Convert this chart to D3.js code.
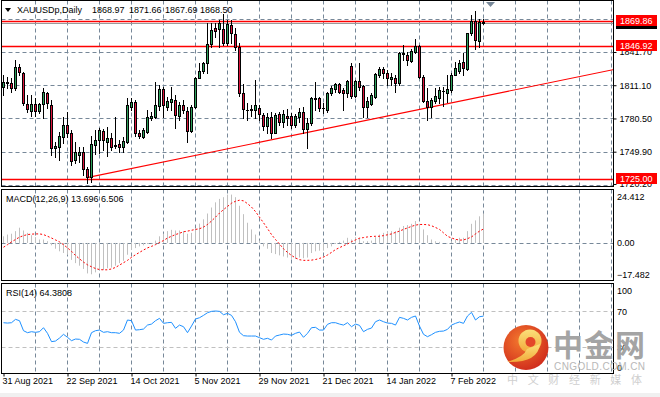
<!DOCTYPE html>
<html>
<head>
<meta charset="utf-8">
<script src="https://cdn.jsdelivr.net/npm/d3@7/dist/d3.min.js"></script>
<style>
  body { margin: 0; background: #fff; }
  svg { display: block; font-family: "Liberation Sans", Arial, sans-serif; }
</style>
</head>
<body>
<script>
const width = 660;
const height = 397;

// XAUUSDp daily candles, 31 Aug 2021 .. 17 Feb 2022
const opens = [1809.1,1813.5,1813.4,1808.2,1828.2,1822.0,1793.5,1787.6,1793.5,1787.6,
  1793.5,1803.6,1792.8,1752.9,1753.8,1763.7,1774.4,1767.3,1742.2,1746.8,
  1749.8,1733.6,1726.2,1756.0,1760.6,1769.2,1759.1,1762.7,1754.8,1756.6,
  1753.8,1759.1,1791.3,1795.9,1767.3,1763.7,1768.3,1781.2,1781.5,1792.2,
  1807.6,1791.3,1795.9,1797.5,1782.7,1792.8,1787.3,1769.2,1791.3,1818.0,
  1824.2,1831.9,1848.8,1863.5,1862.6,1862.6,1849.7,1866.6,1858.3,1846.6,
  1804.2,1787.9,1788.2,1788.2,1789.8,1783.6,1773.8,1782.1,1767.3,1784.2,
  1777.5,1782.7,1782.7,1774.1,1782.1,1786.1,1770.4,1776.6,1798.1,1799.0,
  1789.8,1788.2,1803.6,1807.6,1812.2,1806.7,1803.6,1828.8,1801.1,1815.0,
  1810.4,1790.7,1793.8,1799.9,1820.5,1825.7,1822.6,1816.8,1817.4,1813.4,
  1841.1,1838.9,1833.7,1842.0,1847.2,1819.0,1796.8,1791.3,1796.8,1799.0,
  1805.4,1804.2,1806.7,1820.5,1824.5,1832.8,1825.7,1858.9,1870.6,1852.2,
  1868.97];
const highs = [1820.5,1819.0,1817.4,1834.3,1830.3,1823.6,1802.1,1802.1,1799.0,1794.4,
  1808.2,1805.1,1797.5,1759.1,1768.3,1782.1,1786.7,1769.8,1759.1,1754.4,
  1753.8,1736.0,1764.3,1769.8,1771.3,1770.4,1772.9,1766.7,1781.5,1760.6,
  1763.7,1799.0,1799.0,1797.5,1769.8,1771.3,1788.2,1786.7,1814.4,1811.3,
  1809.7,1799.9,1809.7,1802.1,1795.9,1797.5,1791.3,1792.8,1819.0,1831.2,
  1832.8,1868.1,1868.1,1868.7,1871.2,1876.7,1871.2,1871.2,1863.5,1849.7,
  1812.2,1794.4,1792.8,1815.9,1792.8,1785.2,1785.2,1786.7,1785.2,1786.7,
  1788.2,1788.9,1785.2,1784.6,1789.8,1791.3,1780.6,1799.9,1814.4,1799.9,
  1794.4,1805.1,1810.4,1813.4,1812.8,1808.2,1815.9,1831.9,1815.9,1831.2,
  1811.3,1799.9,1803.6,1822.7,1828.2,1828.2,1825.1,1822.6,1820.5,1842.0,
  1848.1,1842.0,1844.1,1853.4,1848.1,1820.5,1808.2,1799.0,1808.2,1809.7,
  1809.7,1820.5,1822.0,1832.8,1834.3,1841.1,1859.5,1875.8,1879.5,1871.8,
  1871.66];
const lows = [1802.1,1808.2,1805.1,1806.7,1820.5,1792.9,1786.7,1782.7,1782.7,1785.2,
  1780.6,1789.8,1746.8,1745.2,1742.2,1757.5,1763.7,1737.5,1739.1,1740.6,
  1728.3,1721.3,1722.2,1747.7,1748.3,1751.4,1746.2,1751.4,1752.9,1749.8,
  1749.8,1758.1,1788.2,1764.3,1762.1,1762.1,1767.3,1779.0,1780.6,1788.2,
  1782.1,1788.2,1788.2,1771.3,1779.0,1785.2,1759.1,1768.3,1789.8,1817.4,
  1822.0,1822.0,1846.6,1855.8,1846.6,1848.1,1848.1,1849.7,1843.5,1801.1,
  1780.6,1779.0,1782.7,1780.6,1779.0,1769.8,1767.3,1762.1,1766.7,1774.4,
  1772.9,1774.4,1771.3,1772.9,1777.5,1766.7,1752.9,1774.4,1788.2,1787.6,
  1785.2,1786.7,1802.1,1805.1,1803.6,1788.2,1800.5,1799.0,1799.9,1806.7,
  1782.1,1782.1,1792.8,1799.0,1819.0,1817.4,1811.3,1811.3,1805.1,1811.3,
  1834.3,1829.7,1832.8,1840.5,1818.0,1795.9,1779.0,1782.1,1794.4,1794.4,
  1792.0,1795.9,1805.1,1820.5,1822.0,1820.5,1825.1,1857.4,1844.1,1846.0,
  1867.69];
const closes = [1814.3,1814.0,1808.8,1827.6,1823.0,1794.4,1788.9,1793.5,1787.3,1793.5,
  1804.5,1794.4,1752.9,1755.1,1764.3,1774.4,1767.3,1741.5,1749.8,1749.9,
  1733.6,1726.2,1756.9,1760.6,1769.8,1760.6,1762.7,1754.4,1756.0,1753.8,
  1759.7,1792.8,1795.9,1767.3,1764.3,1769.8,1781.5,1782.7,1792.8,1807.6,
  1792.8,1796.8,1798.1,1783.6,1792.8,1788.2,1769.2,1791.3,1817.4,1824.2,
  1831.9,1848.8,1862.0,1861.4,1868.7,1849.7,1867.5,1858.9,1846.6,1804.2,
  1788.9,1788.5,1788.8,1792.8,1784.6,1773.8,1782.1,1767.3,1783.6,1777.5,
  1784.6,1780.6,1774.4,1782.7,1786.1,1770.4,1776.6,1799.0,1799.0,1790.4,
  1789.8,1803.6,1808.2,1812.2,1805.1,1803.6,1815.3,1801.1,1815.0,1809.7,
  1790.7,1796.8,1802.1,1821.4,1825.7,1822.0,1817.4,1819.0,1813.4,1841.1,
  1839.8,1834.3,1842.9,1847.2,1819.0,1796.8,1791.3,1797.5,1801.1,1806.7,
  1805.8,1807.3,1820.5,1826.6,1831.9,1826.6,1858.9,1870.6,1852.8,1869.6,
  1868.50];

// MACD(12,26,9): main histogram and signal line
const macdMain = [3.1,3.9,4.3,5.5,7.1,5.8,4.7,3.6,2.7,1.6,
  1.6,0.8,-1.1,-2.7,-3.9,-4.7,-5.5,-7.9,-9.4,-10.6,
  -12.1,-14.2,-14.6,-13.7,-12.6,-12.6,-11.8,-11.5,-10.6,-9.4,
  -8.3,-5.5,-3.1,-2.4,-1.6,-1.1,-0.5,-0.2,1.1,3.1,
  4.3,5.5,6.1,5.8,5.8,5.5,4.3,4.7,6.8,9.0,
  11.0,13.7,16.5,18.9,20.5,21.3,22.5,22.5,21.3,17.3,
  13.4,9.4,6.3,3.9,1.1,-1.6,-2.7,-4.7,-5.2,-5.8,
  -6.3,-6.8,-7.4,-7.4,-6.8,-7.1,-6.8,-4.7,-3.9,-3.6,
  -3.6,-2.4,-1.6,-0.5,0.5,1.1,2.4,1.6,2.7,2.4,
  0.8,0.8,1.1,2.7,3.9,4.7,5.2,5.5,5.5,7.1,
  7.9,8.3,8.9,10.2,8.9,6.3,3.6,1.6,0.8,0.5,
  0.0,-0.2,0.8,1.6,2.4,2.4,5.5,8.9,10.5,12.4,
  13.696];
const macdSignal = [-2.0,-0.8,0.5,1.6,2.7,3.4,3.9,4.1,4.2,4.2,
  3.9,3.1,2.3,1.4,0.5,-0.8,-2.3,-3.9,-5.8,-7.4,
  -8.9,-10.2,-11.1,-11.9,-12.4,-12.5,-12.5,-12.1,-11.4,-10.3,
  -9.2,-8.1,-6.7,-5.5,-4.4,-3.3,-2.3,-1.6,-0.8,0.2,
  1.1,2.3,3.1,3.9,4.5,5.2,5.5,5.9,6.3,6.6,
  7.4,8.6,10.2,12.0,13.9,15.5,17.0,18.5,19.4,19.9,
  19.6,18.3,16.7,14.6,12.0,9.4,6.7,3.9,1.6,-0.5,
  -2.7,-4.4,-5.8,-7.0,-7.8,-8.1,-8.1,-8.0,-7.7,-7.2,
  -6.6,-5.6,-4.4,-3.1,-2.2,-1.3,-0.5,0.6,1.4,2.2,
  2.5,2.8,3.0,3.1,3.1,3.4,3.8,4.2,4.9,5.5,
  6.3,7.0,7.7,8.3,8.6,8.6,8.5,8.0,7.2,6.3,
  4.7,3.1,2.3,1.7,1.3,1.4,2.0,2.8,4.2,5.5,
  6.506];

// RSI(14)
const rsiValues = [57.1,56.7,57.1,60.8,59.3,48.3,46.1,47.2,46.5,47.2,
  51.6,45.4,36.2,36.9,40.2,44.3,41.0,37.3,39.1,38.8,
  35.8,34.3,46.1,48.3,49.0,46.5,47.2,46.1,46.1,45.4,
  49.0,60.1,59.3,49.0,49.4,50.1,54.5,55.6,59.3,61.9,
  56.4,57.1,57.5,50.9,54.5,52.7,46.1,53.4,61.2,62.6,
  65.2,68.1,69.6,70.0,69.6,65.9,67.4,65.2,58.2,46.5,
  42.8,42.4,42.4,42.4,40.6,38.8,39.9,38.0,42.4,43.5,
  44.6,44.3,43.2,45.4,46.8,41.0,45.4,51.6,52.0,49.0,
  49.0,55.3,57.1,57.1,55.6,54.5,57.1,52.7,55.6,54.2,
  47.2,49.8,51.2,58.2,60.1,58.2,56.7,56.4,54.5,63.0,
  61.9,60.1,63.0,64.5,53.4,44.3,41.7,43.9,46.5,47.6,
  47.9,49.8,54.5,56.4,57.9,56.4,64.5,68.5,60.1,63.7,
  64.3808];

const dateLabels = ["31 Aug 2021", "22 Sep 2021", "14 Oct 2021", "5 Nov 2021",
  "29 Nov 2021", "21 Dec 2021", "14 Jan 2022", "7 Feb 2022"];
const dateLabelBars = [0, 16, 32, 48, 64, 80, 96, 112];

const priceGrid = [1872.30, 1841.70, 1811.10, 1780.50, 1749.90, 1719.30];
const priceLabels = [1841.70, 1811.10, 1780.50, 1749.90, 1720.20];
const levelLines = [1869.86, 1846.92, 1725.00];
const bidPrice = 1868.50;
const trendFrom = { bar: 21.3, price: 1726.2 };
const trendTo = { bar: 152.5, price: 1825.4 };

const macdLabels = [24.412, 0, -17.482];
const rsiLabels = [100, 70, 30, 0];
const rsiLevels = [70, 30];

const header = ["XAUUSDp,Daily", "1868.97", "1871.66", "1867.69", "1868.50"];

const bullColor = "#2ca05a";
const bearColor = "#dc143c";
const gridColor = "#778899";

let svg = d3
  .select("body")
  .append("svg")
  .attr("width", width)
  .attr("height", height);

svg.append("rect").attr("width", width).attr("height", height).attr("fill", "#fff");
svg.append("rect").attr("x", 0).attr("y", 393).attr("width", width).attr("height", 4).attr("fill", "#f0f0f0");

// panels (left, right, top, bottom)
const left = 1.5, right = 613.5;
const panels = {
  main: { top: 0.5, bottom: 186.5 },
  macd: { top: 189.5, bottom: 280.5 },
  rsi: { top: 283.5, bottom: 373.5 },
};

// bars are 4px apart, grid every 8 bars (extends past the last bar)
let x = d3.scaleLinear().domain([0, 152]).range([3, 611]);
let y = d3.scaleLinear().domain([1749.9, 1841.7]).range([151.7, 52]);
let yMacd = d3.scaleLinear().domain([-17.482, 24.412]).range([280.5, 190.5]);
let yRsi = d3.scaleLinear().domain([0, 100]).range([374.5, 283.8]);

const gridBars = d3.range(8, 153, 8);
const px = (v) => Math.round(v) + 0.5;

// clip paths for each panel
Object.entries(panels).forEach(([name, p]) => {
  svg.append("clipPath").attr("id", "clip-" + name)
    .append("rect").attr("x", left).attr("y", p.top).attr("width", right - left).attr("height", p.bottom - p.top);
});

// vertical grid in all three panels
Object.entries(panels).forEach(([name, p]) => {
  svg.append("g")
    .selectAll("line")
    .data(gridBars)
    .join("line")
    .attr("x1", (d) => px(x(d)))
    .attr("x2", (d) => px(x(d)))
    .attr("y1", p.top)
    .attr("y2", p.bottom)
    .attr("stroke", gridColor)
    .attr("stroke-dasharray", "4,3");
});

// main panel horizontal grid
let main = svg.append("g").attr("clip-path", "url(#clip-main)");
main.selectAll(".hgrid")
  .data(priceGrid)
  .join("line")
  .attr("x1", left).attr("x2", right)
  .attr("y1", (d) => px(y(d))).attr("y2", (d) => px(y(d)))
  .attr("stroke", gridColor)
  .attr("stroke-dasharray", "4,3");

// bid line
main.append("line")
  .attr("x1", left).attr("x2", right)
  .attr("y1", px(y(bidPrice))).attr("y2", px(y(bidPrice)))
  .attr("stroke", "#9a9a9a");

// horizontal levels
main.selectAll(".level")
  .data(levelLines)
  .join("line")
  .attr("x1", left).attr("x2", right)
  .attr("y1", (d) => px(y(d))).attr("y2", (d) => px(y(d)))
  .attr("stroke", "#ff0000")
  .attr("stroke-width", 1.5);

// trend line (ray to the right edge)
let slope = (trendTo.price - trendFrom.price) / (trendTo.bar - trendFrom.bar);
main.append("line")
  .attr("x1", x(trendFrom.bar)).attr("y1", y(trendFrom.price))
  .attr("x2", x(trendTo.bar + 5)).attr("y2", y(trendTo.price + 5 * slope))
  .attr("stroke", "#ff0000")
  .attr("stroke-width", 1.2);

// candles
let candles = opens.map((o, i) => ({ i, o, h: highs[i], l: lows[i], c: closes[i] }));

let cg = main.selectAll(".candle")
  .data(candles)
  .join("g")
  .attr("shape-rendering", "crispEdges");

cg.append("line")
  .attr("x1", (d) => Math.round(x(d.i)) + 0.5)
  .attr("x2", (d) => Math.round(x(d.i)) + 0.5)
  .attr("y1", (d) => Math.round(y(d.h)))
  .attr("y2", (d) => Math.round(y(d.l)) + 1)
  .attr("stroke", "#000");

cg.append("rect")
  .attr("x", (d) => Math.round(x(d.i)) - 1)
  .attr("width", 3)
  .attr("y", (d) => Math.round(y(Math.max(d.o, d.c))))
  .attr("height", (d) => Math.max(1, Math.round(y(Math.min(d.o, d.c))) - Math.round(y(Math.max(d.o, d.c))) + 1))
  .attr("fill", "#000");

cg.filter((d) => Math.round(y(Math.min(d.o, d.c))) - Math.round(y(Math.max(d.o, d.c))) >= 2)
  .append("rect")
  .attr("x", (d) => Math.round(x(d.i)))
  .attr("width", 1)
  .attr("y", (d) => Math.round(y(Math.max(d.o, d.c))) + 1)
  .attr("height", (d) => Math.round(y(Math.min(d.o, d.c))) - Math.round(y(Math.max(d.o, d.c))) - 1)
  .attr("fill", (d) => (d.c >= d.o ? bullColor : bearColor));

// MACD panel
let macd = svg.append("g").attr("clip-path", "url(#clip-macd)");
macd.append("line")
  .attr("x1", left).attr("x2", right)
  .attr("y1", px(yMacd(0))).attr("y2", px(yMacd(0)))
  .attr("stroke", gridColor)
  .attr("stroke-dasharray", "4,3");

macd.selectAll(".hist")
  .data(macdMain)
  .join("line")
  .attr("x1", (d, i) => Math.round(x(i)) + 0.5)
  .attr("x2", (d, i) => Math.round(x(i)) + 0.5)
  .attr("y1", yMacd(0))
  .attr("y2", (d) => yMacd(d))
  .attr("stroke", "#c0c0c0");

macd.append("path")
  .datum(macdSignal)
  .attr("d", d3.line().x((d, i) => x(i) + 0.5).y((d) => yMacd(d)))
  .attr("fill", "none")
  .attr("stroke", "#ff0000")
  .attr("stroke-dasharray", "2,2");

// RSI panel
let rsi = svg.append("g").attr("clip-path", "url(#clip-rsi)");
rsi.selectAll(".lvl")
  .data(rsiLevels)
  .join("line")
  .attr("x1", left).attr("x2", right)
  .attr("y1", (d) => px(yRsi(d))).attr("y2", (d) => px(yRsi(d)))
  .attr("stroke", "#c0c0c0")
  .attr("stroke-dasharray", "4,3");

rsi.append("path")
  .datum(rsiValues)
  .attr("d", d3.line().x((d, i) => x(i) + 0.5).y((d) => yRsi(d)))
  .attr("fill", "none")
  .attr("stroke", "#1e90ff");

// panel frames
Object.values(panels).forEach((p) => {
  svg.append("rect")
    .attr("x", left).attr("y", p.top)
    .attr("width", right - left).attr("height", p.bottom - p.top)
    .attr("fill", "none")
    .attr("stroke", "#000");
});

// right price axis
let priceAxis = svg.append("g")
  .attr("transform", `translate(${right},0)`)
  .call(d3.axisRight(y).tickValues(priceLabels).tickSize(3).tickPadding(3).tickFormat(d3.format(".2f")));
priceAxis.select(".domain").remove();
priceAxis.selectAll("text").attr("font-size", 9).attr("font-family", "Liberation Sans, Arial, sans-serif");

// bid label (only its lower edge shows) and red level labels
svg.append("rect")
  .attr("x", 616).attr("y", Math.round(y(bidPrice)) - 5)
  .attr("width", 41).attr("height", 11).attr("fill", "#000");

let lvl = svg.selectAll(".lvlLabel")
  .data(levelLines)
  .join("g");
lvl.append("rect")
  .attr("x", 616).attr("y", (d) => Math.round(y(d)) - 6)
  .attr("width", 41).attr("height", 11)
  .attr("fill", "#ff0000");
lvl.append("text")
  .attr("x", 620).attr("y", (d) => y(d) + 3)
  .attr("font-size", 9).attr("fill", "#fff")
  .text((d) => d3.format(".2f")(d));

// MACD and RSI scale labels
const macdFmt = (d) => (d === 0 ? "0.00" : d3.format(".3f")(d));
svg.selectAll(".macdLabel")
  .data(macdLabels)
  .join("text")
  .attr("x", 617)
  .attr("y", (d, i) => [200, yMacd(0) + 3, 277.5][i])
  .attr("font-size", 9)
  .text(macdFmt);

svg.selectAll(".rsiLabel")
  .data(rsiLabels)
  .join("text")
  .attr("x", 617)
  .attr("y", (d) => (d === 100 ? 293.5 : d === 0 ? 371 : yRsi(d) + 3.5))
  .attr("font-size", 9)
  .text((d) => d);

// time axis
let timeAxis = svg.append("g")
  .attr("transform", `translate(0,${panels.rsi.bottom})`)
  .call(d3.axisBottom(x).tickValues(dateLabelBars).tickSize(3).tickPadding(1)
    .tickFormat((d, i) => dateLabels[i]));
timeAxis.select(".domain").remove();
timeAxis.selectAll("line").attr("transform", "translate(0.5,0)");
timeAxis.selectAll("text")
  .attr("text-anchor", "start")
  .attr("dx", -1)
  .attr("font-size", 9)
  .attr("font-family", "Liberation Sans, Arial, sans-serif");

// header and indicator captions
svg.append("path").attr("d", "M5,8 L11,8 L8,12 Z").attr("fill", "#000");
svg.selectAll(".hdr")
  .data(header)
  .join("text")
  .attr("x", (d, i) => [17, 92, 129, 165, 200][i])
  .attr("y", 12.5)
  .attr("font-size", 9)
  .text((d) => d);

svg.append("text").attr("x", 6).attr("y", 201.5).attr("font-size", 9)
  .text(`MACD(12,26,9) ${macdMain[macdMain.length - 1].toFixed(3)} ${macdSignal[macdSignal.length - 1].toFixed(3)}`);
svg.append("text").attr("x", 6).attr("y", 296).attr("font-size", 9)
  .text(`RSI(14) ${rsiValues[rsiValues.length - 1].toFixed(4)}`);

// chart shift marker
svg.append("path").attr("d", "M486,2 L495,2 L490.5,7 Z").attr("fill", "#778899");

// watermark
let defs = svg.append("defs");
let rg = defs.append("radialGradient").attr("id", "logoRed").attr("cx", "40%").attr("cy", "35%").attr("r", "70%");
rg.append("stop").attr("offset", "0%").attr("stop-color", "#f47a2e");
rg.append("stop").attr("offset", "100%").attr("stop-color", "#cf2a1c");
let yg = defs.append("linearGradient").attr("id", "logoGold").attr("x1", "0").attr("y1", "0").attr("x2", "0").attr("y2", "1");
yg.append("stop").attr("offset", "0%").attr("stop-color", "#fbe07a");
yg.append("stop").attr("offset", "100%").attr("stop-color", "#f2a93a");

let wm = svg.append("g");
wm.append("circle").attr("cx", 526).attr("cy", 347.5).attr("r", 22.5).attr("fill", "url(#logoRed)");
wm.append("circle").attr("cx", 530).attr("cy", 341).attr("r", 11.5).attr("fill", "url(#logoGold)");
wm.append("path").attr("d", "M540,344 Q538,363 507,362 Q524,357 527,349 Z").attr("fill", "url(#logoGold)");
wm.append("circle").attr("cx", 530.5).attr("cy", 342).attr("r", 5).attr("fill", "#e4472a");
wm.append("text").attr("x", 553).attr("y", 356)
  .attr("font-family", "Noto Sans CJK SC").attr("font-weight", "bold")
  .attr("font-size", 30).attr("fill", "#a4a4a4")
  .attr("textLength", 92).attr("lengthAdjust", "spacing")
  .text("中金网");
wm.append("text").attr("x", 554).attr("y", 369.5)
  .attr("font-size", 10).attr("fill", "#b8b8b8")
  .attr("textLength", 91).attr("lengthAdjust", "spacing")
  .text("CNGOLD.COM.CN");
wm.append("text").attr("x", 507).attr("y", 384)
  .attr("font-family", "Noto Sans CJK SC")
  .attr("font-size", 11).attr("fill", "#cfcfcf")
  .attr("textLength", 135).attr("lengthAdjust", "spacing")
  .text("中文财经新媒体");
</script>
</body>
</html>
